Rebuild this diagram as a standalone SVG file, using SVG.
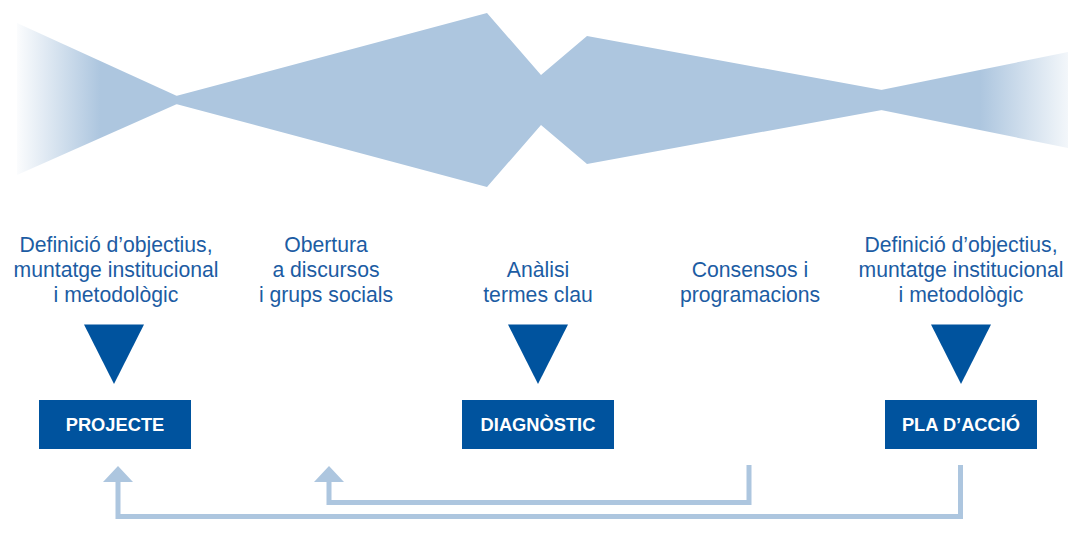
<svg xmlns="http://www.w3.org/2000/svg" width="1069" height="533" viewBox="0 0 1069 533">
  <style>
    .band { fill: #adc6df; }
    .lbl { font-family: "Liberation Sans", Arial, sans-serif; font-size: 21.2px; fill: #1c5ca3; text-anchor: middle; }
    .tri { fill: #00539e; }
    .box { fill: #00539e; }
    .boxtxt { font-family: "Liberation Sans", Arial, sans-serif; font-size: 18.3px; font-weight: bold; fill: #ffffff; text-anchor: middle; }
    .link { fill: none; stroke: #adc6df; stroke-width: 5; }
    .head { fill: #adc6df; }
  </style>
  <defs>
    <linearGradient id="fadeLeft" gradientUnits="userSpaceOnUse" x1="17" y1="0" x2="100" y2="0">
      <stop offset="0" stop-color="#adc6df" stop-opacity="0.05"/>
      <stop offset="1" stop-color="#adc6df" stop-opacity="1"/>
    </linearGradient>
    <linearGradient id="fadeRight" gradientUnits="userSpaceOnUse" x1="980" y1="0" x2="1068" y2="0">
      <stop offset="0" stop-color="#adc6df" stop-opacity="1"/>
      <stop offset="1" stop-color="#adc6df" stop-opacity="0.15"/>
    </linearGradient>
  </defs>

  <!-- opening / closing band -->
  <g id="band">
    <polygon fill="url(#fadeLeft)" points="17,23 177,96 177,104 17,175"/>
    <polygon class="band" points="176,96 487,13 541,75 587,36 882,90 882,110 587,164 541,125 487,187 176,104"/>
    <polygon fill="url(#fadeRight)" points="881,90 1068,52 1068,148 881,110"/>
  </g>

  <!-- phase labels -->
  <g id="label-definicio-1">
    <text class="lbl" x="116" y="252">Definició d’objectius,</text>
    <text class="lbl" x="116" y="277">muntatge institucional</text>
    <text class="lbl" x="116" y="302">i metodològic</text>
  </g>
  <g id="label-obertura">
    <text class="lbl" x="326" y="252">Obertura</text>
    <text class="lbl" x="326" y="277">a discursos</text>
    <text class="lbl" x="326" y="302">i grups socials</text>
  </g>
  <g id="label-analisi">
    <text class="lbl" x="538" y="277">Anàlisi</text>
    <text class="lbl" x="538" y="302">termes clau</text>
  </g>
  <g id="label-consensos">
    <text class="lbl" x="750" y="277">Consensos i</text>
    <text class="lbl" x="750" y="302">programacions</text>
  </g>
  <g id="label-definicio-2">
    <text class="lbl" x="961" y="252">Definició d’objectius,</text>
    <text class="lbl" x="961" y="277">muntatge institucional</text>
    <text class="lbl" x="961" y="302">i metodològic</text>
  </g>

  <!-- stages -->
  <g id="projecte">
    <polygon class="tri" points="84,324.5 144,324.5 114,384"/>
    <rect class="box" x="39" y="400" width="152" height="49"/>
    <text class="boxtxt" x="115" y="431">PROJECTE</text>
  </g>
  <g id="diagnostic">
    <polygon class="tri" points="508,324.5 568,324.5 538,384"/>
    <rect class="box" x="462" y="400" width="152" height="49"/>
    <text class="boxtxt" x="538" y="431">DIAGNÒSTIC</text>
  </g>
  <g id="pla-accio">
    <polygon class="tri" points="931,324.5 991,324.5 961,384"/>
    <rect class="box" x="885" y="400" width="152" height="49"/>
    <text class="boxtxt" x="961" y="431">PLA D’ACCIÓ</text>
  </g>

  <!-- feedback loops -->
  <g id="connectors">
    <polyline class="link" points="960.5,465 960.5,516.5 118,516.5 118,480"/>
    <polygon class="head" points="118,466 133,482 103,482"/>
    <polyline class="link" points="749,465 749,502.5 329,502.5 329,480"/>
    <polygon class="head" points="329,466 344,482 314,482"/>
  </g>
</svg>
